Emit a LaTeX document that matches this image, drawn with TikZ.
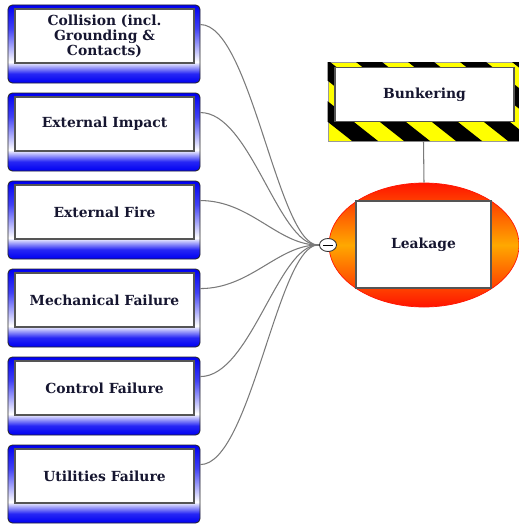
\documentclass[tikz,border=0pt]{standalone}
\usepackage{fontspec}
\setmainfont{DejaVu Serif}
\usetikzlibrary{shapes.geometric}
\definecolor{CauseBlue}{HTML}{0000F2}
\definecolor{HazYellow}{HTML}{FFFF00}
\definecolor{EdgeGrey}{HTML}{555555}
\definecolor{LinkGrey}{HTML}{7A7A7A}
\definecolor{LeakRed}{HTML}{FF1400}
\definecolor{LeakOrange}{HTML}{FFA800}
\definecolor{InkNavy}{HTML}{161630}
\pgfdeclareverticalshading{causeshade}{100bp}{color(0bp)=(CauseBlue); color(25bp)=(CauseBlue);
  color(31bp)=(CauseBlue!85!white); color(38.5bp)=(white); color(60bp)=(CauseBlue!75!white);
  color(75bp)=(CauseBlue); color(100bp)=(CauseBlue)}
\tikzset{
  causebox/.style={draw=black!85, line width=.5pt, rounded corners=2.5pt, shading=causeshade,
    minimum width=38.4mm, minimum height=15.6mm, inner sep=0pt},
  labelbox/.style={draw=EdgeGrey, fill=white, line width=.7pt, minimum width=35.8mm,
    minimum height=10.8mm, align=center, inner sep=1pt, text=InkNavy,
    font=\fontsize{7.9}{8.6}\selectfont\bfseries},
  link/.style={draw=LinkGrey, line width=.6pt},
  gate/.style={ellipse, draw=black!80, fill=white, line width=.5pt, minimum width=3.4mm,
    minimum height=2.6mm, inner sep=0pt},
  leakbody/.style={ellipse, draw=LeakRed, top color=LeakRed, bottom color=LeakRed,
    middle color=LeakOrange, minimum width=38mm, minimum height=24.8mm, inner sep=0pt},
}

\begin{document}
\begin{tikzpicture}[x=0.2mm,y=-0.2mm]
\path[use as bounding box] (0,0) rectangle (519,526);

% threat boxes on the left
\foreach \i/\txt in {1/{Collision (incl.\\Grounding \&\\Contacts)},2/{External Impact},
    3/{External Fire},4/{Mechanical Failure},5/{Control Failure},6/{Utilities Failure}}{
  \pgfmathsetmacro\ytop{5+88*(\i-1)}
  \node[causebox] (c\i) at (104,\ytop+39) {};
  \node[labelbox] (t\i) at (104.5,\ytop+31) {\txt};
  \coordinate (p\i) at ([yshift=-4mm]c\i.north east);
}

% hazard
\node[draw=black!40, line width=.4pt, minimum width=38.2mm, minimum height=15.8mm, fill=HazYellow, inner sep=0pt] (bunk) at (423.5,101.5) {};
\begin{scope}
  \clip (bunk.south west) rectangle (bunk.north east);
  \foreach \x in {200,252,...,560}
    \fill[black] (\x,62) -- (\x+26,62) -- (\x+126,141) -- (\x+100,141) -- cycle;
\end{scope}
\node[labelbox] (bunktxt) at (424.5,94.5) {Bunkering};

% top event
\node[leakbody] (leak) at (424,245) {};
\node[labelbox, minimum width=27mm, minimum height=17.4mm] (leaktxt) at (423.5,244.5) {Leakage};
\draw[link] (bunk.south) -- (leak.north);

% joining lines
\coordinate (join) at (318,245);
\foreach \i in {1,...,6}
  \draw[link] (p\i) .. controls +(50,0) and +(-40,0) .. (join);
\node[gate] (gate) at (328,245) {};
\draw[line width=.4pt] ([xshift=-1mm]gate.center) -- ([xshift=1mm]gate.center);
\draw[link] (join) -- (gate.west);
\end{tikzpicture}
\end{document}
